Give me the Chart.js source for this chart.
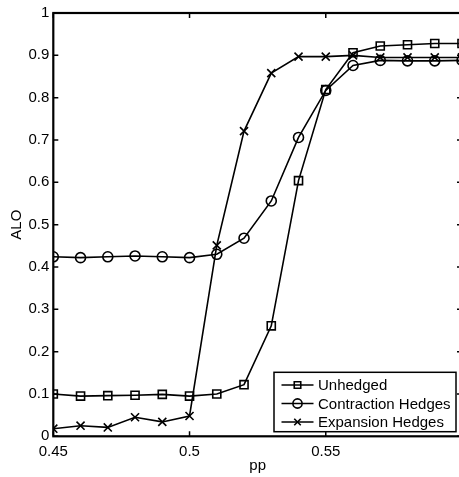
<!DOCTYPE html>
<html>
<head>
<meta charset="utf-8">
<script src="https://cdn.jsdelivr.net/npm/chart.js@4/dist/chart.umd.min.js"></script>
<style>
html,body{margin:0;padding:0;background:#fff;overflow:hidden;width:459px;height:477px;}
#wrap{position:absolute;left:0;top:0;width:463px;height:477px;}
</style>
</head>
<body>
<div id="wrap"><canvas id="c" width="463" height="477"></canvas></div>
<script>
const pp = [0.45,0.46,0.47,0.48,0.49,0.50,0.51,0.52,0.53,0.54,0.55,0.56,0.57,0.58,0.59,0.60];
const unhedged    = [0.100,0.095,0.096,0.097,0.099,0.095,0.100,0.122,0.261,0.604,0.819,0.906,0.922,0.925,0.928,0.928];
const contraction = [0.424,0.422,0.424,0.426,0.424,0.422,0.430,0.468,0.556,0.706,0.817,0.876,0.888,0.887,0.887,0.888];
const expansion   = [0.018,0.025,0.021,0.045,0.034,0.048,0.451,0.721,0.858,0.897,0.897,0.900,0.895,0.895,0.895,0.895];
const seriesNames = ['Unhedged','Contraction Hedges','Expansion Hedges'];
const xTicks = [0.45,0.5,0.55];
const xTickLabels = ['0.45','0.5','0.55'];
const yTicks = [0,0.1,0.2,0.3,0.4,0.5,0.6,0.7,0.8,0.9,1];
const yTickLabels = ['0','0.1','0.2','0.3','0.4','0.5','0.6','0.7','0.8','0.9','1'];
const xTitle = 'pp';
const yTitle = 'ALO';

const FONT = 'Liberation Sans, Arial, Helvetica, sans-serif';
const styles = ['rect','circle','crossRot'];
const radii = [5.7,5,5.7];

function mk(i, vals){
  return {
    label: seriesNames[i],
    data: pp.map((x,k)=>({x:x,y:vals[k]})),
    borderColor:'#000', borderWidth:1.6,
    pointStyle: styles[i], pointRadius: radii[i], pointHoverRadius: radii[i],
    pointBorderColor:'#000', pointBackgroundColor:'rgba(0,0,0,0)', pointBorderWidth:1.6,
    tension:0, fill:false
  };
}

const framePlugin = {
  id:'frame',
  afterDatasetsDraw(chart){
    const {ctx, chartArea:a, scales:{x,y}} = chart;
    ctx.save();
    ctx.strokeStyle='#000';
    ctx.lineWidth=1.5;
    const L=5;
    ctx.beginPath();
    y.ticks.forEach(t=>{
      const py = y.getPixelForValue(t.value);
      ctx.moveTo(a.left,py); ctx.lineTo(a.left+L,py);
      ctx.moveTo(a.right,py); ctx.lineTo(a.right-L,py);
    });
    x.ticks.forEach(t=>{
      const px = x.getPixelForValue(t.value);
      ctx.moveTo(px,a.bottom); ctx.lineTo(px,a.bottom-L);
      ctx.moveTo(px,a.top); ctx.lineTo(px,a.top+L);
    });
    ctx.stroke();
    ctx.lineWidth=2.2;
    ctx.strokeRect(a.left,a.top,a.right-a.left,a.bottom-a.top);
    ctx.restore();
  },
  afterDraw(chart){
    const {ctx, chartArea:a} = chart;
    const right = a.right-6, bottom = a.bottom-4.6;
    const left = 274, top = 372.3;
    ctx.save();
    ctx.fillStyle='#fff';
    ctx.fillRect(left,top,right-left,bottom-top);
    ctx.strokeStyle='#000'; ctx.lineWidth=1.5;
    ctx.strokeRect(left,top,right-left,bottom-top);
    ctx.font = '15px '+FONT;
    ctx.textBaseline='middle';
    const rows=[385,403.5,422];
    chart.data.datasets.forEach((ds,i)=>{
      const yy=rows[i];
      ctx.lineWidth=1.6;
      ctx.beginPath(); ctx.moveTo(281.5,yy); ctx.lineTo(313.5,yy); ctx.stroke();
      ctx.fillStyle='rgba(0,0,0,0)';
      Chart.helpers.drawPoint(ctx,{pointStyle:ds.pointStyle,radius:4.6,borderWidth:1.6,rotation:0},297.5,yy);
      ctx.fillStyle='#000';
      ctx.fillText(ds.label,318,yy+1);
    });
    ctx.restore();
  }
};

new Chart(document.getElementById('c'),{
  type:'line',
  data:{datasets:[mk(0,unhedged),mk(1,contraction),mk(2,expansion)]},
  options:{
    responsive:false, animation:false, devicePixelRatio:1,
    layout:{autoPadding:false,padding:{left:8,right:1,top:9.3,bottom:0}},
    plugins:{legend:{display:false},tooltip:{enabled:false}},
    scales:{
      x:{type:'linear',min:0.45,max:0.6,
        grid:{display:false,drawTicks:false},border:{display:false},
        afterBuildTicks:s=>{s.ticks=xTicks.map(v=>({value:v}));},
        afterFit:s=>{s.height=40.7;},
        ticks:{color:'#000',font:{family:FONT,size:15},padding:7,maxRotation:0,
          callback:(v)=>{const i=xTicks.indexOf(v);return i>=0?xTickLabels[i]:'';}},
        title:{display:true,text:xTitle,color:'#000',font:{family:FONT,size:15},padding:{top:0,bottom:2}}
      },
      y:{type:'linear',min:0,max:1,
        grid:{display:false,drawTicks:false},border:{display:false},
        afterBuildTicks:s=>{s.ticks=yTicks.map(v=>({value:v}));},
        afterFit:s=>{s.width=45.3;},
        ticks:{color:'#000',font:{family:FONT,size:15},padding:4,
          callback:(v)=>{const i=yTicks.findIndex(t=>Math.abs(t-v)<1e-9);return i>=0?yTickLabels[i]:'';}},
        title:{display:true,text:yTitle,color:'#000',font:{family:FONT,size:15},padding:0}
      }
    }
  },
  plugins:[framePlugin]
});
</script>
</body>
</html>
